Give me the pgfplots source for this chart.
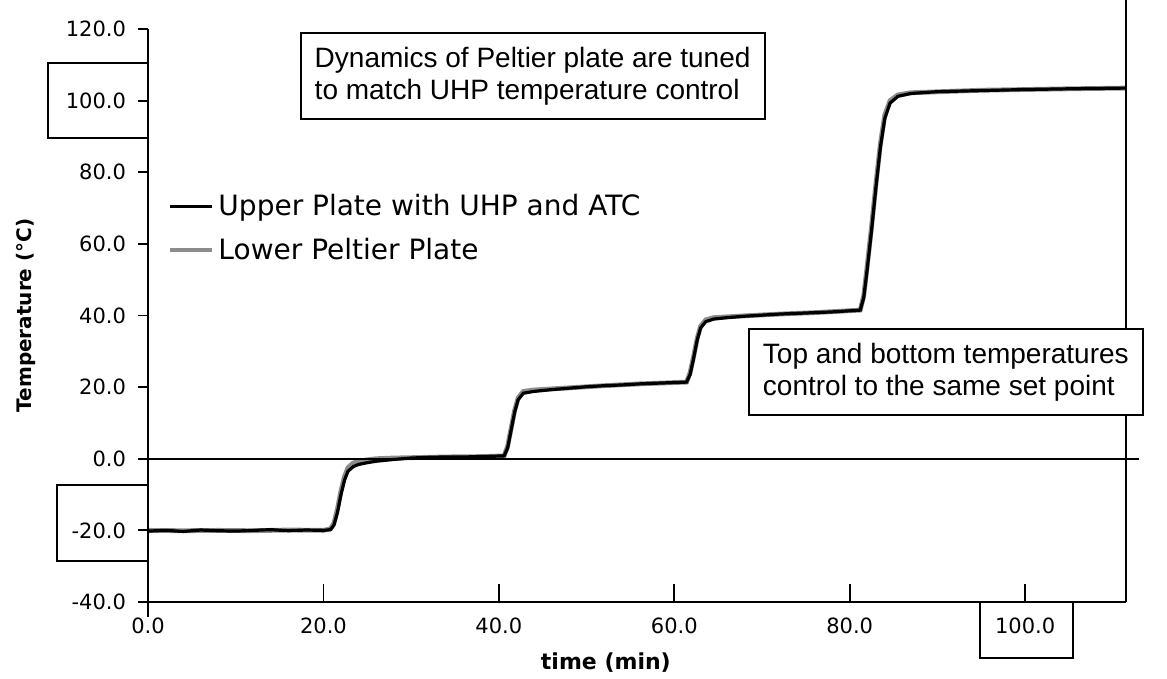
\documentclass[border=0pt]{standalone}
\usepackage{fontspec}
\setmainfont{DejaVu Sans}
\newfontfamily\lib{Liberation Sans}
\usepackage{pgfplots}
\usepackage{pgfplotstable}
\pgfplotsset{compat=1.18}
\pgfplotstableread{
x y
0 -20.2
2 -20.0
4 -20.3
6 -19.9
8 -20.1
10 -20.2
12 -20.0
14 -19.8
16 -20.1
18 -19.9
20 -20.0
20.8 -19.8
21.2 -18.5
21.6 -15
22.0 -10
22.4 -6
22.8 -3.5
23.4 -2.2
24 -1.6
25 -1.1
26 -0.7
28 -0.2
30 0.2
32 0.4
34 0.5
36 0.5
38 0.6
40.6 0.8
41.0 3
41.4 8
41.8 13
42.2 16.5
42.8 18.3
44 18.8
46 19.3
48 19.7
50 20.1
52 20.4
54 20.6
56 20.9
58 21.1
61.4 21.4
61.8 23.5
62.2 28
62.6 33
63.0 36.5
63.6 38.3
64.5 39
66 39.4
68 39.8
70 40.1
72 40.4
74 40.6
76 40.8
78 41
81.2 41.5
81.6 45
82.0 53
82.5 64
83.0 76
83.5 87
84.0 95
84.6 99.3
85.5 101.2
87 102
90 102.5
95 102.8
100 103.1
105 103.3
111.5 103.5
}\upperdata
\pgfplotstableread{
x y
0 -20.0
4 -20.1
8 -20.0
12 -20.1
16 -19.9
20 -20.0
20.8 -19.6
21.2 -18
21.6 -14
22.0 -9
22.4 -5
22.8 -2.5
23.4 -1.2
24 -0.7
25 -0.3
26 0
28 0.2
30 0.3
34 0.5
38 0.6
40.6 0.8
41.0 3.5
41.4 8.5
41.8 13.5
42.2 17
42.8 18.8
44 19.2
48 19.8
52 20.4
56 20.9
61.4 21.4
61.8 24
62.2 28.5
62.6 33.5
63.0 37
63.6 38.8
64.5 39.4
68 39.9
72 40.4
76 40.8
81.2 41.5
81.6 45.5
82.0 54
82.5 65
83.0 77
83.5 88
84.0 96
84.6 100
85.5 101.6
87 102.2
95 102.9
105 103.3
111.5 103.5
}\lowerdata
\begin{document}
\begin{tikzpicture}
\begin{axis}[
  scale only axis, width=489pt, height=286.5pt,
  xmin=0, xmax=111.5, ymin=-40, ymax=120,
  axis x line*=bottom, axis y line*=left,
  axis line style={line width=1pt,-},
  xtick={0,20,40,60,80,100}, ytick={-40,-20,0,20,40,60,80,100,120},
  tick align=outside,
  major tick length=5pt,
  tick style={black, line width=0.9pt},
  xtick style={draw=none},
  /pgf/number format/assume math mode=true,
  /pgf/number format/.cd, fixed, fixed zerofill, precision=1, /pgfplots/.cd,
  ticklabel style={font=\fontsize{10.5}{12}\selectfont},
  y tick label style={xshift=-2.5pt},
  x tick label style={yshift=0.5pt},
  clip=false,
  reverse legend,
  legend cell align=left,
  legend style={draw=none, fill=none, at={(axis cs:2.2,75)}, anchor=north west,
    font=\fontsize{14}{16}\selectfont, row sep=5.5pt, inner sep=0pt},
  legend image code/.code={\draw[#1] (0pt,0pt) -- (21pt,0pt);},
]
\addplot[black!45, line width=2.4pt] table {\lowerdata};
\addplot[black, line width=1.6pt] table {\upperdata};
\legend{Lower Peltier Plate, Upper Plate with UHP and ATC}
% zero reference line
\draw[line width=1pt] (axis cs:0,0) -- (axis cs:113,0);
% right vertical line
\draw[line width=1pt] (axis cs:111.5,-40) -- (axis cs:111.5,128.1);
% y axis extension below
\draw[line width=1pt] (axis cs:0,-40) -- ([yshift=-7.5pt]axis cs:0,-40);
% x ticks (inside)
\pgfplotsinvokeforeach{0,20,40,60,80,100}{\draw[line width=0.9pt] (axis cs:#1,-40) -- ([yshift=9pt]axis cs:#1,-40);}
% boxes round tick labels
\draw[line width=1pt] ([xshift=-50pt]axis cs:0,110.5) rectangle (axis cs:0,89.5);
\draw[line width=1pt] ([xshift=-45.5pt]axis cs:0,-7.4) rectangle (axis cs:0,-28.6);
\draw[line width=1pt] (axis cs:94.9,-40) rectangle ([yshift=-28pt]axis cs:105.4,-40);
% annotation boxes
\node[draw, line width=1pt, fill=white, anchor=north west, inner xsep=7pt, inner ysep=7pt,
  align=left, font=\lib\fontsize{14}{16}\selectfont] at (axis cs:17.3,119.2)
  {Dynamics of Peltier plate are tuned\\to match UHP temperature control};
\node[draw, line width=1pt, fill=white, anchor=north west, inner xsep=7pt, inner ysep=7pt,
  align=left, font=\lib\fontsize{14}{16}\selectfont] at (axis cs:68.4,36.5)
  {Top and bottom temperatures\\control to the same set point};
% axis labels
\node[font=\bfseries\fontsize{11}{13}\selectfont] at ([yshift=-30.5pt]axis cs:52.2,-40) {time (min)};
\node[font=\bfseries\fontsize{10}{12}\selectfont, rotate=90] at ([xshift=-61pt]rel axis cs:0,0.5) {Temperature (°C)};
\coordinate (bl) at (rel axis cs:0,0);
\coordinate (tr) at (rel axis cs:1,1);
\end{axis}
\pgfresetboundingbox
\path ([shift={(-74pt,-38.5pt)}]bl) rectangle ([shift={(20.5pt,14.5pt)}]tr);
\end{tikzpicture}
\end{document}
